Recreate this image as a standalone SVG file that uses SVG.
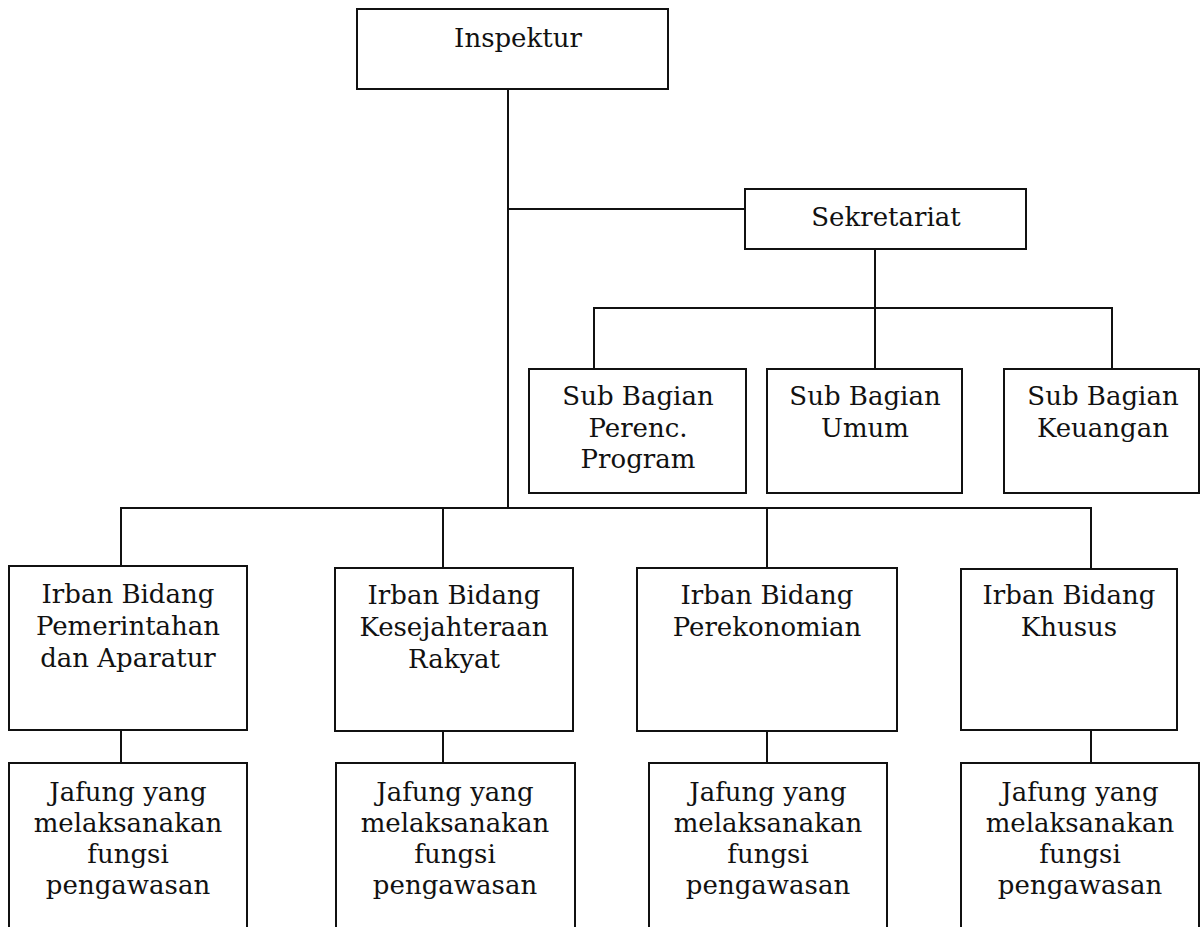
<svg xmlns="http://www.w3.org/2000/svg" width="1201" height="927" viewBox="0 0 1201 927">
<style>
.box{fill:#fff;stroke:#111;stroke-width:2}
.ln{fill:none;stroke:#111;stroke-width:2}
text{font-family:"DejaVu Serif","Liberation Serif",serif;font-size:26px;fill:#111;text-anchor:middle}
</style>
<rect width="1201" height="927" fill="#fff"/>
<g id="connectors">
<path class="ln" d="M508,89 V508"/>
<path class="ln" d="M508,209 H745"/>
<path class="ln" d="M875,249 V308"/>
<path class="ln" d="M594,369 V308 H1112 V369"/>
<path class="ln" d="M875,308 V369"/>
<path class="ln" d="M121,566 V508 H1091 V569"/>
<path class="ln" d="M443,508 V568"/>
<path class="ln" d="M767,508 V568"/>
<path class="ln" d="M121,730 V763"/>
<path class="ln" d="M443,731 V763"/>
<path class="ln" d="M767,731 V763"/>
<path class="ln" d="M1091,730 V763"/>
</g>
<g id="inspektur">
<rect class="box" x="357" y="9" width="311" height="80"/>
<text x="518" y="47">Inspektur</text>
</g>
<g id="sekretariat">
<rect class="box" x="745" y="189" width="281" height="60"/>
<text x="886" y="226">Sekretariat</text>
</g>
<g id="sub-perenc">
<rect class="box" x="529" y="369" width="217" height="124"/>
<text x="638" y="405">Sub Bagian</text>
<text x="638" y="437">Perenc.</text>
<text x="638" y="468">Program</text>
</g>
<g id="sub-umum">
<rect class="box" x="767" y="369" width="195" height="124"/>
<text x="865" y="405">Sub Bagian</text>
<text x="865" y="437">Umum</text>
</g>
<g id="sub-keuangan">
<rect class="box" x="1004" y="369" width="195" height="124"/>
<text x="1103" y="405">Sub Bagian</text>
<text x="1103" y="437">Keuangan</text>
</g>
<g id="irban-pemerintahan">
<rect class="box" x="9" y="566" width="238" height="164"/>
<text x="128" y="603">Irban Bidang</text>
<text x="128" y="635">Pemerintahan</text>
<text x="128" y="667">dan Aparatur</text>
</g>
<g id="irban-kesra">
<rect class="box" x="335" y="568" width="238" height="163"/>
<text x="454" y="604">Irban Bidang</text>
<text x="454" y="636">Kesejahteraan</text>
<text x="454" y="668">Rakyat</text>
</g>
<g id="irban-perekonomian">
<rect class="box" x="637" y="568" width="260" height="163"/>
<text x="767" y="604">Irban Bidang</text>
<text x="767" y="636">Perekonomian</text>
</g>
<g id="irban-khusus">
<rect class="box" x="961" y="569" width="216" height="161"/>
<text x="1069" y="604">Irban Bidang</text>
<text x="1069" y="636">Khusus</text>
</g>
<g id="jafung-1">
<rect class="box" x="9" y="763" width="238" height="180"/>
<text x="128" y="801">Jafung yang</text>
<text x="128" y="832">melaksanakan</text>
<text x="128" y="863">fungsi</text>
<text x="128" y="894">pengawasan</text>
</g>
<g id="jafung-2">
<rect class="box" x="336" y="763" width="239" height="180"/>
<text x="455" y="801">Jafung yang</text>
<text x="455" y="832">melaksanakan</text>
<text x="455" y="863">fungsi</text>
<text x="455" y="894">pengawasan</text>
</g>
<g id="jafung-3">
<rect class="box" x="649" y="763" width="238" height="180"/>
<text x="768" y="801">Jafung yang</text>
<text x="768" y="832">melaksanakan</text>
<text x="768" y="863">fungsi</text>
<text x="768" y="894">pengawasan</text>
</g>
<g id="jafung-4">
<rect class="box" x="961" y="763" width="238" height="180"/>
<text x="1080" y="801">Jafung yang</text>
<text x="1080" y="832">melaksanakan</text>
<text x="1080" y="863">fungsi</text>
<text x="1080" y="894">pengawasan</text>
</g>
</svg>
